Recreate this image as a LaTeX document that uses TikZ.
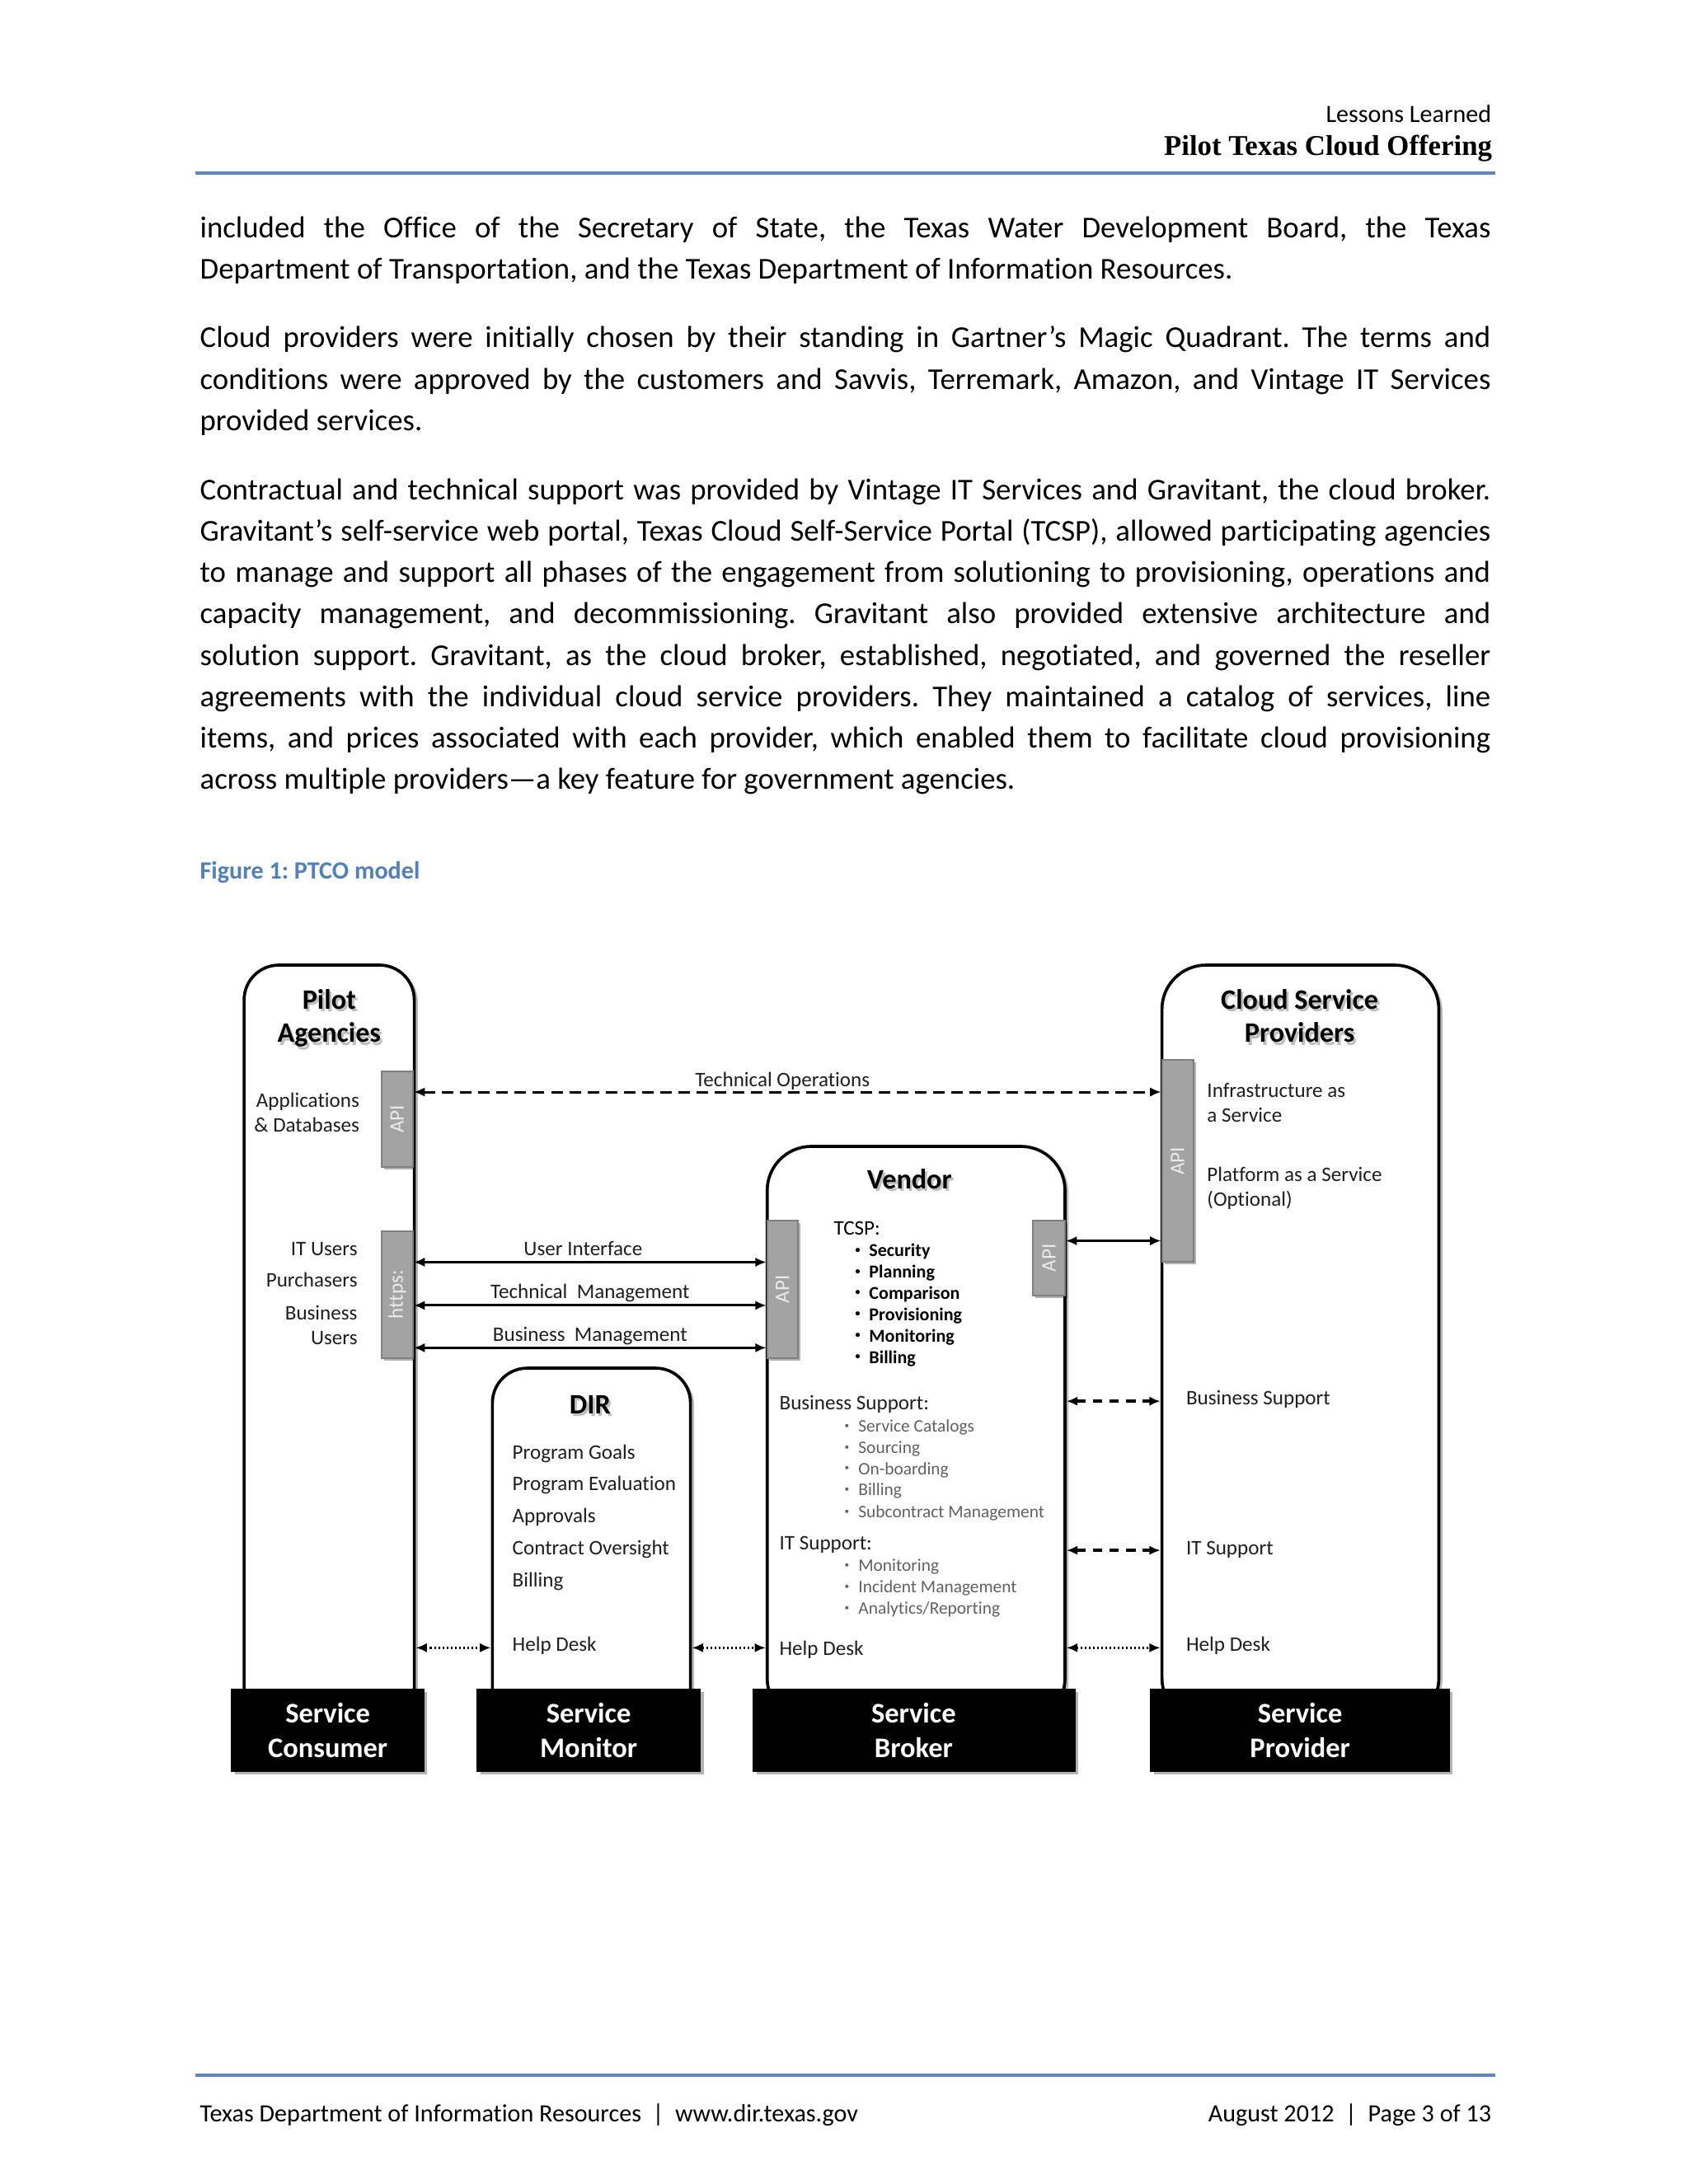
\documentclass[tikz,border=0pt]{standalone}
\usepackage{fontspec}
\setmainfont{Carlito}[Ligatures=NoCommon]
\newfontfamily\hdserif{Liberation Serif}
\usetikzlibrary{arrows.meta,shadows,fit}
\definecolor{figblue}{HTML}{4F81BD}
\definecolor{rulblue}{HTML}{5A87BF}
\frenchspacing
\newcommand\shttl[3]{%
  \node[ttl, text=black!25, xshift=0.8pt, yshift=-1pt] (#1s) at (#2) {#3};
  \node[ttl] (#1) at (#2) {#3};}
\newcommand\bbdot{\makebox[8.2pt][c]{\raisebox{1.3pt}{\fontsize{3.6}{4}\selectfont •}}}
\newcommand\gbdot{\makebox[8.4pt][c]{\raisebox{1.3pt}{\fontsize{3.4}{4}\selectfont •}}}
\begin{document}
\begin{tikzpicture}[x=0.5058pt,y=-0.5058pt,
  >={Latex[length=4pt,width=3.4pt]},
  tallbox/.style={draw=black, line width=1.1pt, fill=white, inner sep=0pt,
    drop shadow={shadow xshift=1.3pt, shadow yshift=-0.8pt, opacity=0.28, fill=black}},
  apibox/.style={draw=black!50, line width=0.6pt, fill=black!36, inner sep=0pt,
    drop shadow={shadow xshift=0.9pt, shadow yshift=-0.9pt, opacity=0.3, fill=black}},
  apilbl/.style={rotate=90, text=black!8, font=\fontsize{7.5}{9}\selectfont, inner sep=0pt},
  blkbox/.style={fill=black, draw=black, inner sep=0pt,
    drop shadow={shadow xshift=1.2pt, shadow yshift=-1.2pt, opacity=0.3, fill=black}},
  blklbl/.style={text=white, font=\bfseries\fontsize{10.3}{12}\selectfont, inner sep=0pt, anchor=base},
  ttl/.style={font=\bfseries\fontsize{10.2}{12}\selectfont, inner sep=0pt, anchor=base},
  txt/.style={font=\fontsize{7.5}{9}\selectfont, text=black!88, inner sep=0pt},
  bbul/.style={font=\bfseries\fontsize{6.6}{8}\selectfont, inner sep=0pt, anchor=base west},
  gbul/.style={font=\fontsize{6.4}{8}\selectfont, text=black!62, inner sep=0pt, anchor=base west},
  body/.style={inner sep=0pt, anchor=north west, text width=468pt, align=justify,
    font=\fontsize{11}{15}\selectfont},
  solidarr/.style={<->, line width=0.9pt},
  longdash/.style={<->, line width=0.9pt, dash pattern=on 4.2pt off 2.4pt},
  shortdash/.style={<->, line width=1.1pt, dash pattern=on 3.4pt off 2.6pt},
  dotarr/.style={<->, line width=0.8pt, dash pattern=on 0.6pt off 0.9pt},
  hdrule/.style={draw=rulblue, line width=1.1pt}
]
\useasboundingbox (0,0) rectangle (1210.25,1566);
\fill[white] (0,0) rectangle (1210.25,1566);

% ---------- header ----------
\node[font=\fontsize{9}{11}\selectfont, inner sep=0pt, anchor=base east] (hdr1) at (1069.5,88) {Lessons Learned};
\node[font=\hdserif\bfseries\fontsize{10.4}{12}\selectfont, inner sep=0pt, anchor=base east] (hdr2) at (1070,111.5) {Pilot Texas Cloud Offering};
\draw[hdrule] (140,124.2) -- (1072,124.2);

% ---------- body ----------
\node[body] (p1) at (143,149.2) {\noindent\hyphenpenalty=10000\strut included the Office of the Secretary of State, the Texas Water Development Board, the Texas\linebreak
Department of Transportation, and the Texas Department of Information Resources.};
\node[body] (p2) at (143,228.2) {\noindent\hyphenpenalty=10000\strut Cloud providers were initially chosen by their standing in Gartner’s Magic Quadrant. The terms and\linebreak
conditions were approved by the customers and Savvis, Terremark, Amazon, and Vintage IT Services\linebreak
provided services.};
\node[body] (p3) at (143,337.2) {\noindent\hyphenpenalty=10000\strut Contractual and technical support was provided by Vintage IT Services and Gravitant, the cloud broker.\linebreak
Gravitant’s self-service web portal, Texas Cloud Self-Service Portal (TCSP), allowed participating agencies\linebreak
to manage and support all phases of the engagement from solutioning to provisioning, operations and\linebreak
capacity management, and decommissioning. Gravitant also provided extensive architecture and\linebreak
solution support. Gravitant, as the cloud broker, established, negotiated, and governed the reseller\linebreak
agreements with the individual cloud service providers. They maintained a catalog of services, line\linebreak
items, and prices associated with each provider, which enabled them to facilitate cloud provisioning\linebreak
across multiple providers—a key feature for government agencies.};

\node[font=\bfseries\fontsize{9}{11}\selectfont, text=figblue, inner sep=0pt, anchor=base west] (cap) at (143,630) {Figure 1: PTCO model};

% ---------- tall boxes ----------
\node[tallbox, rounded corners=12.6pt, fit={(175,692) (297,1235)}] (pilot) {};
\node[tallbox, rounded corners=16pt, fit={(833,692) (1031.5,1235)}] (csp) {};
\node[tallbox, rounded corners=16pt, fit={(550,822) (763.5,1235)}] (vendor) {};
\node[tallbox, rounded corners=12.6pt, fit={(353,981) (495,1235)}] (dir) {};

% ---------- API bars ----------
\node[apibox, fit={(273.6,768.5) (296,836.6)}] (pilotapi) {};
\node[apibox, fit={(273.6,882.7) (296,973.7)}] (https) {};
\node[apibox, fit={(550,875) (572,973.7)}] (vapil) {};
\node[apibox, fit={(740.6,875) (763.5,929)}] (vapir) {};
\node[apibox, fit={(833,760) (855.5,905)}] (cspapi) {};
\node[apilbl] (pilotapil) at (pilotapi.center) {API};
\node[apilbl] (httpsl) at (https.center) {https:};
\node[apilbl] (vapill) at (vapil.center) {API};
\node[apilbl] (vapirl) at (vapir.center) {API};
\node[apilbl] (cspapil) at (cspapi.center) {API};

% ---------- black role boxes ----------
\node[blkbox, fit={(166,1211) (304,1270)}] (consumer) {};
\node[blkbox, fit={(342,1211) (502,1270)}] (monitor) {};
\node[blkbox, fit={(540,1211) (770.5,1270)}] (broker) {};
\node[blkbox, fit={(824.8,1211) (1039,1270)}] (provider) {};
\node[blklbl] (consumer1) at (235,1235.5) {Service};
\node[blklbl] (consumer2) at (235,1260) {Consumer};
\node[blklbl] (monitor1) at (422,1235.5) {Service};
\node[blklbl] (monitor2) at (422,1260) {Monitor};
\node[blklbl] (broker1) at (655,1235.5) {Service};
\node[blklbl] (broker2) at (655,1260) {Broker};
\node[blklbl] (provider1) at (932,1235.5) {Service};
\node[blklbl] (provider2) at (932,1260) {Provider};

% ---------- titles ----------
\shttl{pilotA}{236,723.5}{Pilot}
\shttl{pilotB}{236,747.5}{Agencies}
\shttl{cspA}{931.7,723.5}{Cloud Service}
\shttl{cspB}{931.7,747.5}{Providers}
\shttl{vendorT}{652,852.5}{Vendor}
\shttl{dirT}{423,1013.5}{DIR}

% ---------- pilot agencies texts ----------
\node[txt, anchor=base east] (appl) at (258,793.7) {Applications};
\node[txt, anchor=base east] (dbs) at (258,811.7) {\&~Databases};
\node[txt, anchor=base east] (itu) at (256.6,900) {IT Users};
\node[txt, anchor=base east] (purch) at (256.6,923) {Purchasers};
\node[txt, anchor=base east] (busu1) at (256.6,946.3) {Business};
\node[txt, anchor=base east] (busu2) at (256.6,964) {Users};

% ---------- CSP texts ----------
\node[txt, anchor=base west] (iaas1) at (865,787) {Infrastructure as};
\node[txt, anchor=base west] (iaas2) at (865,804.6) {a Service};
\node[txt, anchor=base west] (paas1) at (865,847) {Platform as a Service};
\node[txt, anchor=base west] (paas2) at (865,865) {(Optional)};
\node[txt, anchor=base west] (cspbs) at (850,1007) {Business Support};
\node[txt, anchor=base west] (cspit) at (850,1115) {IT Support};
\node[txt, anchor=base west] (csphd) at (850,1184) {Help Desk};

% ---------- vendor texts ----------
\node[txt, anchor=base west, text=black] (tcsp) at (597.4,885.6) {TCSP:};
\node[bbul] (t1) at (606.5,900.9) {\bbdot Security};
\node[bbul] (t2) at (606.5,916.3) {\bbdot Planning};
\node[bbul] (t3) at (606.5,931.5) {\bbdot Comparison};
\node[bbul] (t4) at (606.5,946.8) {\bbdot Provisioning};
\node[bbul] (t5) at (606.5,962.2) {\bbdot Monitoring};
\node[bbul] (t6) at (606.5,977.5) {\bbdot Billing};
\node[txt, anchor=base west] (vbs) at (558.4,1010.8) {Business Support:};
\node[gbul] (b1) at (598.4,1027) {\gbdot Service Catalogs};
\node[gbul] (b2) at (598.4,1042.3) {\gbdot Sourcing};
\node[gbul] (b3) at (598.4,1057.3) {\gbdot On-boarding};
\node[gbul] (b4) at (598.4,1072.5) {\gbdot Billing};
\node[gbul] (b5) at (598.4,1088.3) {\gbdot Subcontract Management};
\node[txt, anchor=base west] (vit) at (558.4,1111) {IT Support:};
\node[gbul] (i1) at (598.4,1126.8) {\gbdot Monitoring};
\node[gbul] (i2) at (598.4,1142.1) {\gbdot Incident Management};
\node[gbul] (i3) at (598.4,1157.3) {\gbdot Analytics/Reporting};
\node[txt, anchor=base west] (vhd) at (558.4,1186.6) {Help Desk};

% ---------- DIR texts ----------
\node[txt, anchor=base west] (d1) at (367,1046) {Program Goals};
\node[txt, anchor=base west] (d2) at (367,1069) {Program Evaluation};
\node[txt, anchor=base west] (d3) at (367,1092) {Approvals};
\node[txt, anchor=base west] (d4) at (367,1115) {Contract Oversight};
\node[txt, anchor=base west] (d5) at (367,1138) {Billing};
\node[txt, anchor=base west] (d6) at (367,1184) {Help Desk};

% ---------- connectors ----------
\coordinate (yto) at (0,783);
\coordinate (yui) at (0,905);
\coordinate (ytm) at (0,936);
\coordinate (ybm) at (0,966.4);
\coordinate (yal) at (0,889.7);
\coordinate (ybs) at (0,1004.7);
\coordinate (yit) at (0,1111.6);
\coordinate (yhd) at (0,1181.5);

\draw[longdash] (pilotapi.east |- yto) -- (cspapi.west |- yto);
\node[txt, anchor=base] (tolbl) at (561,779) {Technical Operations};

\draw[solidarr] (https.east |- yui) -- (vapil.west |- yui);
\draw[solidarr] (https.east |- ytm) -- (vapil.west |- ytm);
\draw[solidarr] (https.east |- ybm) -- (vapil.west |- ybm);
\node[txt, anchor=base] (uilbl) at (418,900) {User Interface};
\node[txt, anchor=base] (tmlbl) at (423,931) {Technical\ \ Management};
\node[txt, anchor=base] (bmlbl) at (423,961.7) {Business\ \ Management};

\draw[solidarr] (vapir.east |- yal) -- (cspapi.west |- yal);
\draw[shortdash] (vendor.east |- ybs) -- (csp.west |- ybs);
\draw[shortdash] (vendor.east |- yit) -- (csp.west |- yit);

\draw[dotarr] (pilot.east |- yhd) -- (dir.west |- yhd);
\draw[dotarr] (dir.east |- yhd) -- (vendor.west |- yhd);
\draw[dotarr] (vendor.east |- yhd) -- (csp.west |- yhd);

% ---------- footer ----------
\draw[hdrule] (140,1488) -- (1072,1488);
\node[font=\fontsize{9}{11}\selectfont, inner sep=0pt, anchor=base west] (ft1) at (143,1521.5) {Texas Department of Information Resources~~|~~www.dir.texas.gov};
\node[font=\fontsize{9}{11}\selectfont, inner sep=0pt, anchor=base east] (ft2) at (1069.5,1521.5) {August 2012~~|~~Page 3 of 13};
\end{tikzpicture}
\end{document}
